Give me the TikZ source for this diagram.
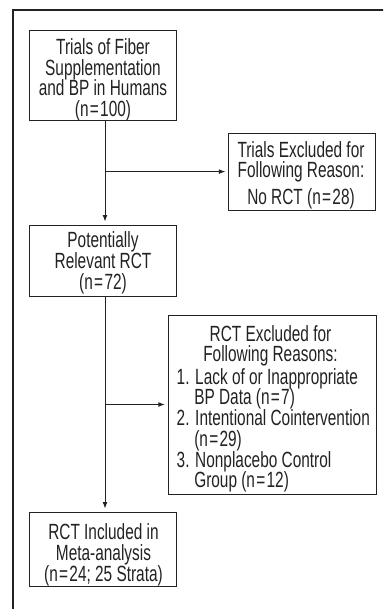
\documentclass[tikz,border=0pt]{standalone}
\usepackage{fontspec}
\setmainfont[FakeStretch=0.70]{Liberation Sans}
\usetikzlibrary{arrows.meta}
\definecolor{ink}{HTML}{222222}
\newcommand\eqs{\kern1.3pt=\kern1.3pt}
\newcommand\fst{\rule{0pt}{16.3pt}}
\newcommand\itemline[1]{\hbox{#1}}
\newcommand\hangline[1]{\hbox{\kern17.6pt #1}}
\begin{document}
\begin{tikzpicture}[x=1pt,y=-1pt,
  box/.style={draw=ink, line width=0.9pt, inner sep=0pt, minimum width=147.4pt},
  txtbase/.style={inner sep=0pt, text=ink, font=\fontsize{22}{20.7}\selectfont},
  txt/.style={txtbase, align=center, anchor=north},
  conn/.style={draw=ink, line width=0.85pt},
  arr/.style={conn, -{Latex[length=6.5pt,width=4.8pt]}, shorten >=3pt}]
\clip (0,0) rectangle (383,609);
% outer frame (cut at the right and bottom)
\draw[ink, line width=1.3pt] (13,640) -- (13,10) -- (420,10);
% boxes
\node[box, minimum height=90pt] (b1) at (103,75) {};
\node[box, minimum height=71pt] (b2) at (103,260.5) {};
\node[box, minimum width=146.7pt, minimum height=77pt] (b3) at (302.2,171.6) {};
\node[box, minimum width=208.4pt, minimum height=179pt] (b4) at (272.5,404.5) {};
\node[box, minimum height=74.5pt] (b5) at (103,549.25) {};
% texts
\node[txt] (t1) at (103,38) {\fst Trials of Fiber\\Supplementation\\and BP in Humans\\(n\eqs100)};
\node[txt] (t2) at (103,231.2) {\fst Potentially\\Relevant RCT\\(n\eqs72)};
\node[txt] (t3) at (301,140.7) {\fst Trials Excluded for\\Following Reason:\\[6pt]No RCT (n\eqs28)};
\node[txt] (t4a) at (270.5,324.7) {\fst RCT Excluded for\\Following Reasons:};
\node[txtbase, anchor=north west] (t4b) at (176.5,367.7) {\vbox{\baselineskip=20.7pt \lineskiplimit=-10pt
  \itemline{\fst 1. Lack of or Inappropriate}
  \hangline{BP Data (n\eqs7)}
  \itemline{2. Intentional Cointervention}
  \hangline{(n\eqs29)}
  \itemline{3. Nonplacebo Control}
  \hangline{Group (n\eqs12)}}};
\node[txt] (t5) at (103.5,523.2) {\fst RCT Included in\\Meta-analysis\\(n\eqs24; 25 Strata)};
% connectors
\coordinate (s1) at ([xshift=2pt]b1.south);
\coordinate (e1) at ([xshift=2pt]b2.north);
\coordinate (s2) at ([xshift=2pt]b2.south);
\coordinate (e2) at ([xshift=2pt]b5.north);
\coordinate (j1) at (s1 |- b3.west);
\coordinate (j2) at (s2 |- b4.west);
\draw[arr] (s1) -- (e1);
\draw[arr] (j1) -- (b3.west);
\draw[arr] (s2) -- (e2);
\draw[arr] (j2) -- (b4.west);
\end{tikzpicture}
\end{document}
